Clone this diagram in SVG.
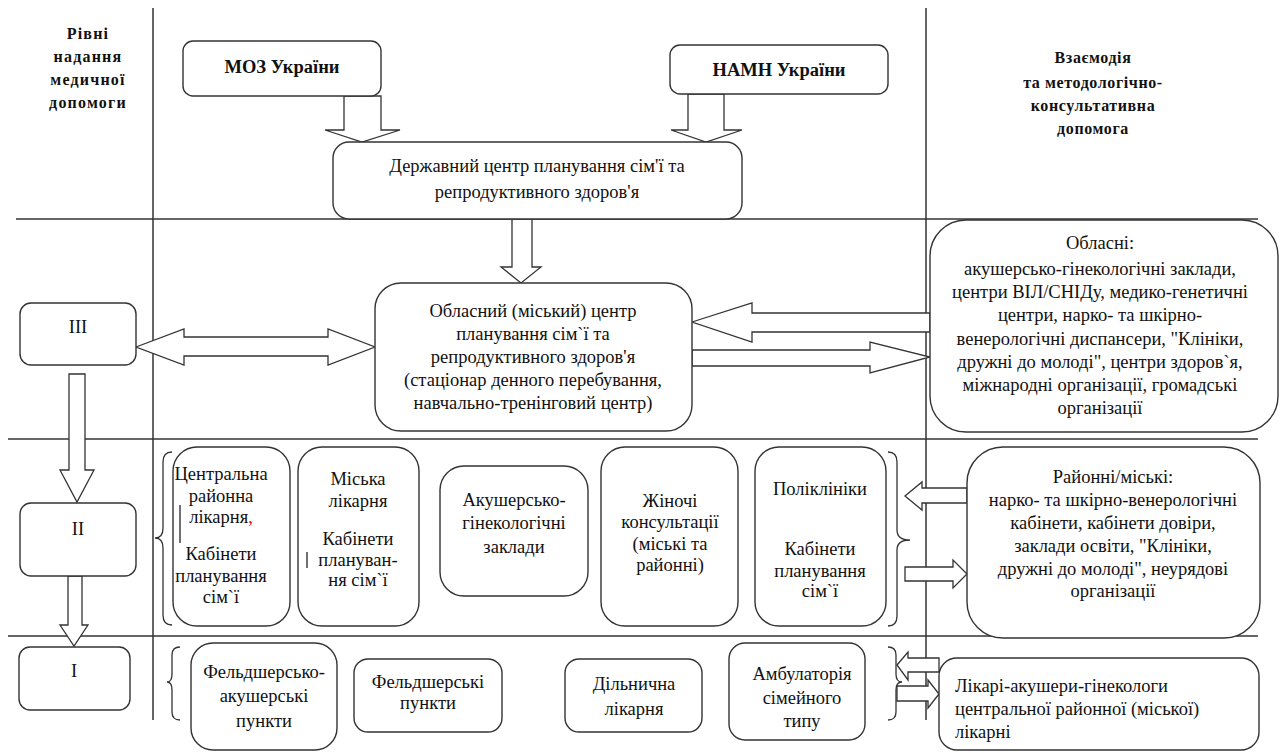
<svg xmlns="http://www.w3.org/2000/svg" width="1285" height="753" viewBox="0 0 1285 753">
<style>
.bg{fill:#fff}
.grid{stroke:#333;stroke-width:1.5;fill:none}
.box{fill:#fff;stroke:#333;stroke-width:1.4}
.arr{fill:#fff;stroke:#333;stroke-width:1.3;stroke-linejoin:miter}
.br{fill:none;stroke:#333;stroke-width:1.3}
text{font-family:'Liberation Serif','DejaVu Serif',serif}
.t{font-size:18.5px;fill:#111;text-anchor:middle}
.l{text-anchor:start}
.b{font-size:18.5px;font-weight:bold;fill:#111;text-anchor:middle}
.h{font-size:16px;font-weight:bold;fill:#111;text-anchor:middle;letter-spacing:1.2px}
.h2{letter-spacing:0.6px}
</style>
<rect class="bg" x="0" y="0" width="1285" height="753"/>
<g id="grid">
<line class="grid" x1="153" y1="8" x2="153" y2="720"/>
<line class="grid" x1="926" y1="8" x2="926" y2="720"/>
<line class="grid" x1="16" y1="219" x2="1258" y2="219"/>
<line class="grid" x1="8" y1="439" x2="1258" y2="439"/>
<line class="grid" x1="8" y1="636" x2="1258" y2="636"/>
</g>
<g id="header-left">
<text class="h" x="88" y="39">Рівні</text>
<text class="h" x="88" y="62">надання</text>
<text class="h" x="88" y="85">медичної</text>
<text class="h" x="88" y="108">допомоги</text>
</g>
<g id="header-right">
<text class="h h2" x="1093" y="63">Взаємодія</text>
<text class="h h2" x="1093" y="88">та методологічно-</text>
<text class="h h2" x="1093" y="111">консультативна</text>
<text class="h h2" x="1093" y="134">допомога</text>
</g>
<g id="connectors">
<polygon class="arr" points="344,96 381,96 381,130 400,130 362,142 325,130 344,130"/>
<polygon class="arr" points="688,94 724,94 724,130 742,130 706,142 671,130 688,130"/>
<polygon class="arr" points="512,219 532,219 532,267 541,267 521,283 501,267 512,267"/>
<polygon class="arr" points="136,347 184,329 184,337 328,337 328,329 375,347 328,365 328,356 184,356 184,365"/>
<polygon class="arr" points="692,322 752,303 752,313 930,313 930,332 752,332 752,342"/>
<polygon class="arr" points="692,350 870,350 870,342 930,357 870,373 870,366 692,366"/>
<polygon class="arr" points="69,374 85,374 85,470 94,470 77,502 60,470 69,470"/>
<polygon class="arr" points="68,576 82,576 82,625 88,625 74,646 60,625 68,625"/>
<polygon class="arr" points="905,496 922,482 922,488 967,488 967,503 922,503 922,510"/>
<polygon class="arr" points="905,567 953,567 953,560 967,574 953,588 953,581 905,581"/>
<polygon class="arr" points="897,665 908,652 908,658 939,658 939,672 908,672 908,680"/>
<polygon class="arr" points="897,686 928,686 928,680 939,694 928,708 928,701 897,701"/>
<path class="br" d="M172,452 Q163,452 163,462 L163,528 Q163,538 155,538 Q163,538 163,548 L163,615 Q163,625 172,625"/>
<path class="br" d="M888,452 Q897,452 897,462 L897,530 Q897,540 910,540 Q897,540 897,550 L897,616 Q897,626 888,626"/>
<path class="br" d="M180,647 Q172,647 172,655 L172,674 Q172,682 167,682 Q172,682 172,690 L172,712 Q172,720 180,720"/>
<path class="br" d="M888,647 Q896,647 896,655 L896,674 Q896,682 902,682 Q896,682 896,690 L896,712 Q896,720 888,720"/>
</g>
<g id="moz">
<rect class="box" x="183" y="41" width="198" height="55" rx="10"/>
<text class="b" x="282" y="73">МОЗ України</text>
</g>
<g id="namn">
<rect class="box" x="670" y="45" width="218" height="49" rx="10"/>
<text class="b" x="779" y="76">НАМН України</text>
</g>
<g id="derzh">
<rect class="box" x="333" y="142" width="409" height="77" rx="16"/>
<text class="t" x="537" y="172">Державний центр планування сім'ї та</text>
<text class="t" x="537" y="198">репродуктивного здоров'я</text>
</g>
<g id="oblasnyi">
<rect class="box" x="375" y="283" width="317" height="148" rx="26"/>
<text class="t" x="533" y="317">Обласний (міський) центр</text>
<text class="t" x="533" y="340">планування сім`ї та</text>
<text class="t" x="533" y="363">репродуктивного здоров'я</text>
<text class="t" x="533" y="386">(стаціонар денного перебування,</text>
<text class="t" x="533" y="409">навчально-тренінговий центр)</text>
</g>
<g id="oblasni">
<rect class="box" x="930" y="220" width="348" height="212" rx="36"/>
<text class="t" x="1100" y="249">Обласні:</text>
<text class="t" x="1100" y="275">акушерсько-гінекологічні заклади,</text>
<text class="t" x="1100" y="298">центри ВІЛ/СНІДу, медико-генетичні</text>
<text class="t" x="1100" y="321">центри, нарко- та шкірно-</text>
<text class="t" x="1100" y="345">венерологічні диспансери, "Клініки,</text>
<text class="t" x="1100" y="368">дружні до молоді", центри здоров`я,</text>
<text class="t" x="1100" y="391">міжнародні організації, громадські</text>
<text class="t" x="1100" y="414">організації</text>
</g>
<g id="level3">
<rect class="box" x="20" y="303" width="116" height="62" rx="11"/>
<text class="t" x="78" y="333">III</text>
</g>
<g id="level2">
<rect class="box" x="20" y="503" width="116" height="73" rx="11"/>
<text class="t" x="78" y="535">II</text>
</g>
<g id="level1">
<rect class="box" x="19" y="647" width="111" height="63" rx="11"/>
<text class="t" x="74" y="677">I</text>
</g>
<g id="crl">
<rect class="box" x="173" y="447" width="117" height="179" rx="24"/>
<text class="t" x="221" y="480">Центральна</text>
<text class="t" x="221" y="502">районна</text>
<text class="t" x="221" y="523">лікарня<tspan fill="#d00">,</tspan></text>
<text class="t" x="221" y="560">Кабінети</text>
<text class="t" x="221" y="582">планування</text>
<text class="t" x="221" y="603">сім`ї</text>
<line x1="180" y1="505" x2="180" y2="543" stroke="#111" stroke-width="1.2"/>
</g>
<g id="miska">
<rect class="box" x="298" y="447" width="121" height="179" rx="24"/>
<text class="t" x="358" y="485">Міська</text>
<text class="t" x="358" y="507">лікарня</text>
<text class="t" x="358" y="545">Кабінети</text>
<text class="t" x="358" y="566">плануван-</text>
<text class="t" x="358" y="586">ня сім`ї</text>
<line x1="307" y1="552" x2="307" y2="568" stroke="#111" stroke-width="1.2"/>
</g>
<g id="akush">
<rect class="box" x="440" y="466" width="148" height="130" rx="24"/>
<text class="t" x="514" y="506">Акушерсько-</text>
<text class="t" x="514" y="529">гінекологічні</text>
<text class="t" x="514" y="553">заклади</text>
</g>
<g id="zhinochi">
<rect class="box" x="601" y="447" width="137" height="179" rx="24"/>
<text class="t" x="670" y="507">Жіночі</text>
<text class="t" x="670" y="528">консультації</text>
<text class="t" x="670" y="550">(міські та</text>
<text class="t" x="670" y="571">районні)</text>
</g>
<g id="poliklin">
<rect class="box" x="755" y="447" width="131" height="179" rx="24"/>
<text class="t" x="820" y="495">Поліклініки</text>
<text class="t" x="820" y="555">Кабінети</text>
<text class="t" x="820" y="577">планування</text>
<text class="t" x="820" y="597">сім`ї</text>
</g>
<g id="raionni">
<rect class="box" x="967" y="447" width="293" height="191" rx="36"/>
<text class="t" x="1113" y="483">Районні/міські:</text>
<text class="t" x="1113" y="506">нарко- та шкірно-венерологічні</text>
<text class="t" x="1113" y="529">кабінети, кабінети довіри,</text>
<text class="t" x="1113" y="552">заклади освіти, "Клініки,</text>
<text class="t" x="1113" y="575">дружні до молоді", неурядові</text>
<text class="t" x="1113" y="597">організації</text>
</g>
<g id="fap">
<rect class="box" x="191" y="643" width="146" height="107" rx="22"/>
<text class="t" x="264" y="678">Фельдшерсько-</text>
<text class="t" x="264" y="702">акушерські</text>
<text class="t" x="264" y="727">пункти</text>
</g>
<g id="fp">
<rect class="box" x="354" y="659" width="148" height="73" rx="14"/>
<text class="t" x="428" y="688">Фельдшерські</text>
<text class="t" x="428" y="709">пункти</text>
</g>
<g id="dilnychna">
<rect class="box" x="565" y="659" width="137" height="73" rx="14"/>
<text class="t" x="634" y="690">Дільнична</text>
<text class="t" x="634" y="715">лікарня</text>
</g>
<g id="ambul">
<rect class="box" x="729" y="643" width="136" height="97" rx="16"/>
<text class="t" x="802" y="680">Амбулаторія</text>
<text class="t" x="802" y="704">сімейного</text>
<text class="t" x="802" y="727">типу</text>
</g>
<g id="likari">
<rect class="box" x="939" y="658" width="320" height="92" rx="18"/>
<text class="t l" x="955" y="692">Лікарі-акушери-гінекологи</text>
<text class="t l" x="955" y="715">центральної районної (міської)</text>
<text class="t l" x="955" y="738">лікарні</text>
</g>
</svg>
